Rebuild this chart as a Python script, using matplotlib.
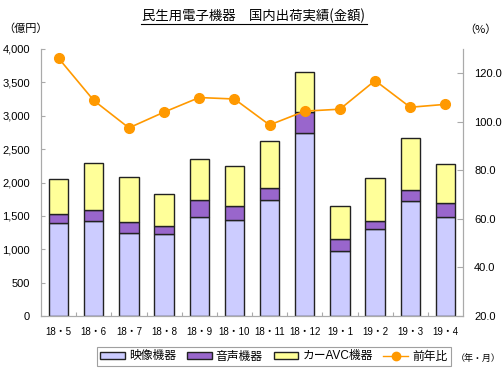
import matplotlib
matplotlib.use("Agg")
import matplotlib.pyplot as plt
import numpy as np
from matplotlib.patches import Patch
from matplotlib.lines import Line2D

categories = ["18・5", "18・6", "18・7", "18・8", "18・9", "18・10", "18・11", "18・12",
              "19・1", "19・2", "19・3", "19・4"]
video = [1393, 1428, 1243, 1223, 1488, 1443, 1733, 2742, 968, 1298, 1718, 1483]
audio = [140, 160, 170, 120, 245, 200, 190, 308, 180, 130, 175, 205]
car_avc = [517, 709, 669, 490, 619, 609, 694, 600, 504, 644, 779, 594]
yoy = [126.2, 108.8, 97.5, 104.0, 110.0, 109.4, 98.7, 104.4, 105.2, 117.0, 106.0, 107.2]

series_names = ["映像機器", "音声機器", "カーAVC機器", "前年比"]
colors = ["#CCCCFF", "#9966CC", "#FFFF99", "#FF9900"]

plt.rcParams['font.family'] = ['Liberation Sans', 'Noto Sans CJK JP', 'DejaVu Sans']

fig = plt.figure(figsize=(5.03, 3.71), dpi=100)
ax = fig.add_axes([41/503, 1-316/371, (463-41)/503, (316-49)/371])
x = np.arange(len(categories))
w = 0.55
ec = "#222222"
ax.bar(x, video, w, color=colors[0], edgecolor=ec, linewidth=1, zorder=2)
ax.bar(x, audio, w, bottom=video, color=colors[1], edgecolor=ec, linewidth=1, zorder=2)
bot2 = np.array(video) + np.array(audio)
ax.bar(x, car_avc, w, bottom=bot2, color=colors[2], edgecolor=ec, linewidth=1, zorder=2)

ax.set_xlim(-0.5, len(categories) - 0.5)
ax.set_ylim(0, 4000)
ax.set_yticks(np.arange(0, 4001, 500))
ax.set_yticklabels([f"{v:,}" for v in range(0, 4001, 500)], fontsize=8)
ax.set_xticks(np.arange(0.5, len(categories) - 0.5, 1))
ax.set_xticklabels([])
ax.set_xticks(x, minor=True)
ax.set_xticklabels(categories, minor=True, fontsize=7)
ax.tick_params(axis='x', which='major', direction='in', length=3, color='#AAAAAA')
ax.tick_params(axis='x', which='minor', length=0, pad=8)
ax.tick_params(axis='y', direction='in', length=3, color='#AAAAAA', pad=8)
spine_c = '#AAAAAA'
ax.spines['top'].set_visible(False)
for s in ['left', 'right', 'bottom']:
    ax.spines[s].set_color(spine_c)

ax2 = ax.twinx()
ax2.plot(x, yoy, color=colors[3], marker='o', markersize=7, linewidth=1.2, zorder=3)
ax2.set_ylim(20, 130)
ax2.set_yticks(np.arange(20, 121, 20))
ax2.set_yticklabels([f"{v:.1f}" for v in range(20, 121, 20)], fontsize=8)
ax2.tick_params(axis='y', direction='in', length=4, color='#AAAAAA', pad=8)
ax2.spines['top'].set_visible(False)
for s in ['left', 'right', 'bottom']:
    ax2.spines[s].set_color(spine_c)

fig.text(254/503, 1-16/371, "民生用電子機器　国内出荷実績(金額)", ha='center', va='center',
         fontsize=9.6, family=['Noto Sans CJK JP'])
# underline
fig.add_artist(Line2D([141/503, 367/503], [1-23.5/371, 1-23.5/371], color='black', linewidth=0.8))
fig.text(3/503, 1-29/371, "（億円）", ha='left', va='center', fontsize=8, family=['Noto Sans CJK JP'])
fig.text(497/503, 1-30/371, "（%）", ha='right', va='center', fontsize=8, family=['Noto Sans CJK JP'])
fig.text(501/503, 1-358/371, "（年・月）", ha='right', va='center', fontsize=6.5, family=['Noto Sans CJK JP'])

handles = [Patch(facecolor=colors[0], edgecolor=ec),
           Patch(facecolor=colors[1], edgecolor=ec),
           Patch(facecolor=colors[2], edgecolor=ec),
           Line2D([0], [0], color=colors[3], marker='o', markersize=6, linewidth=1)]
leg = fig.legend(handles, series_names, loc='center', bbox_to_anchor=(274/503, 1-356.5/371),
                 ncol=4, frameon=True, fancybox=False, edgecolor='#888888',
                 handlelength=2.1, handleheight=0.5, columnspacing=0.9, handletextpad=0.35,
                 borderpad=0.3, borderaxespad=0,
                 prop={'family': ['Liberation Sans', 'Noto Sans CJK JP'], 'size': 8.5})
leg.get_frame().set_linewidth(0.8)

fig.savefig("out.png", dpi=100)
